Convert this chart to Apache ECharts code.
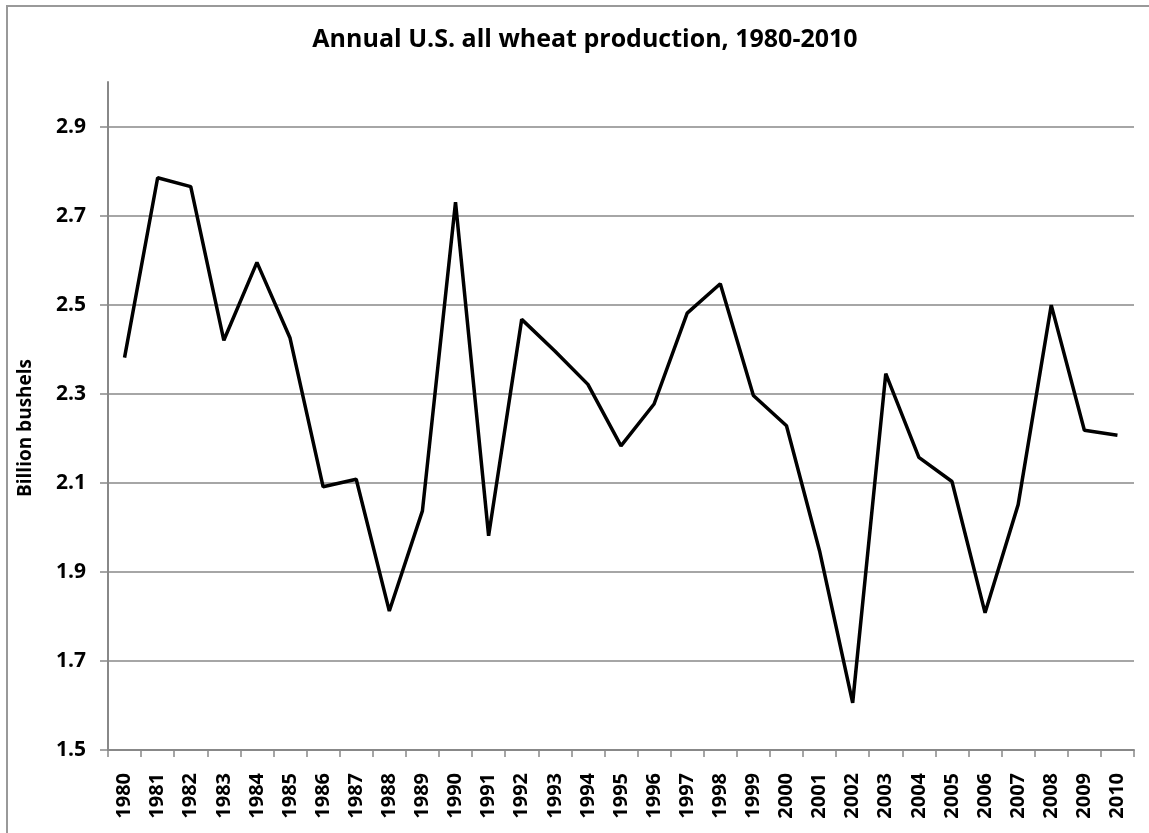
<!DOCTYPE html>
<html>
<head>
<meta charset="utf-8">
<script src="https://cdn.jsdelivr.net/npm/echarts@6/dist/echarts.min.js"></script>
<style>
  html, body { margin: 0; padding: 0; background: #fff; }
  #chart { width: 1149px; height: 833px; }
</style>
</head>
<body>
<div id="chart"></div>
<script>
  // years on the x axis
  const years = ['1980', '1981', '1982', '1983', '1984', '1985', '1986', '1987', '1988', '1989',
    '1990', '1991', '1992', '1993', '1994', '1995', '1996', '1997', '1998', '1999',
    '2000', '2001', '2002', '2003', '2004', '2005', '2006', '2007', '2008', '2009', '2010'];

  // production, billion bushels
  const production = [2.381, 2.785, 2.765, 2.420, 2.595, 2.425, 2.091, 2.108, 1.812, 2.037,
    2.730, 1.981, 2.467, 2.396, 2.321, 2.183, 2.277, 2.481, 2.547, 2.296,
    2.228, 1.947, 1.606, 2.345, 2.157, 2.103, 1.808, 2.051, 2.499, 2.218, 2.207];

  const font = '"Open Sans", "Noto Sans", sans-serif';

  const chart = echarts.init(document.getElementById('chart'));

  const option = {
    animation: false,
    backgroundColor: '#fff',
    title: {
      text: 'Annual U.S. all wheat production, 1980-2010',
      left: 580,
      textAlign: 'center',
      top: 22,
      textStyle: { fontFamily: font, fontWeight: 'bold', fontSize: 25, color: '#000' }
    },
    grid: { left: 108, right: 15, top: 82, bottom: 83 },
    xAxis: {
      type: 'category',
      data: years,
      boundaryGap: true,
      axisLine: { lineStyle: { color: '#888', width: 2 } },
      axisTick: { show: true, interval: 0, length: 7, lineStyle: { color: '#888', width: 1.5 } },
      axisLabel: {
        interval: 0, rotate: 90, margin: 23,
        fontFamily: font, fontWeight: 'bold', fontSize: 20, color: '#000'
      }
    },
    yAxis: {
      type: 'value',
      min: 1.5,
      max: 3.0,
      interval: 0.2,
      axisLine: { show: true, lineStyle: { color: '#888', width: 2 } },
      axisTick: { show: true, length: 8, lineStyle: { color: '#888', width: 1.5 } },
      axisLabel: {
        showMaxLabel: false, margin: 22,
        formatter: v => v.toFixed(1),
        fontFamily: font, fontWeight: 'bold', fontSize: 21, color: '#000'
      },
      splitLine: { show: true, showMaxLine: false, lineStyle: { color: '#888', width: 1.5 } }
    },
    series: [{
      type: 'line',
      data: production,
      symbol: 'none',
      lineStyle: { color: '#000', width: 3.5 },
      z: 5
    }],
    graphic: [
      {
        type: 'rect',
        shape: { x: 7, y: 6, width: 1200, height: 900 },
        style: { fill: null, stroke: '#999', lineWidth: 2 },
        silent: true, z: -1
      },
      {
        type: 'text',
        x: 26, y: 428,
        rotation: Math.PI / 2,
        style: {
          text: 'Billion bushels',
          fontFamily: font, fontWeight: 'bold', fontSize: 19, fill: '#000',
          align: 'center', verticalAlign: 'middle'
        }
      }
    ]
  };

  chart.setOption(option);
</script>
</body>
</html>
